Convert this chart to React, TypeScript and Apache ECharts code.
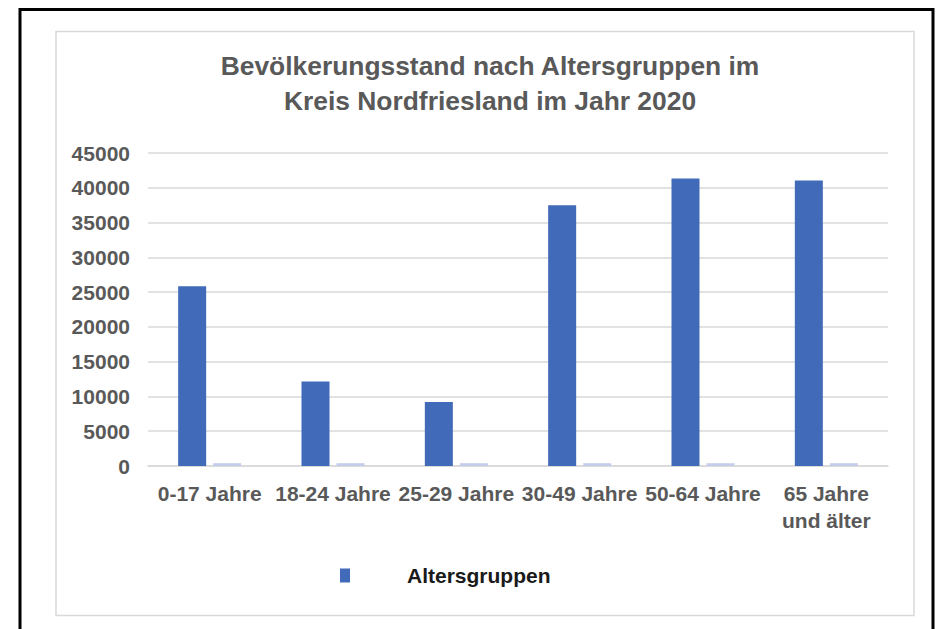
import React, { useEffect, useRef } from "react";
import * as echarts from "echarts";

const categories = ["0-17 Jahre", "18-24 Jahre", "25-29 Jahre", "30-49 Jahre", "50-64 Jahre", "65 Jahre\nund älter"];
const altersgruppen = [25850, 12150, 9200, 37500, 41350, 41050];
const secondSeries = [400, 400, 400, 400, 400, 400];
const yTicks = [0, 5000, 10000, 15000, 20000, 25000, 30000, 35000, 40000, 45000];
const titleLines = ["Bevölkerungsstand nach Altersgruppen im", "Kreis Nordfriesland im Jahr 2020"];
const legendName = "Altersgruppen";

const SANS = '"Liberation Sans", Arial, sans-serif';

export default function App() {
  const ref = useRef<HTMLDivElement>(null);
  useEffect(() => {
    document.body.style.margin = "0";
    if (!ref.current) return;
    const chart = echarts.init(ref.current, null, { renderer: "svg" });
    chart.setOption({
      animation: false,
      backgroundColor: "#ffffff",
      title: {
        text: titleLines.join("\n"),
        left: 485,
        textAlign: "center",
        top: 43,
        textStyle: {
          fontFamily: SANS,
          fontWeight: "bold",
          fontSize: 26.4,
          lineHeight: 35,
          color: "#595959",
        },
      },
      legend: {
        data: [legendName],
        left: 335,
        top: 560,
        itemWidth: 10,
        itemHeight: 14,
        icon: "rect",
        textStyle: {
          fontFamily: SANS,
          fontWeight: "bold",
          fontSize: 21,
          color: "#1a1a1a",
          padding: [0, 0, 0, 52],
        },
      },
      grid: { left: 148, right: 49, top: 153, bottom: 163 },
      xAxis: {
        type: "category",
        data: categories,
        axisLine: { lineStyle: { color: "#d9d9d9", width: 1.5 } },
        axisTick: { show: false },
        axisLabel: {
          interval: 0,
          margin: 14,
          fontFamily: SANS,
          fontWeight: "bold",
          fontSize: 21,
          lineHeight: 27,
          color: "#595959",
        },
      },
      yAxis: {
        type: "value",
        min: yTicks[0],
        max: yTicks[yTicks.length - 1],
        interval: yTicks[1] - yTicks[0],
        axisLine: { show: false },
        axisTick: { show: false },
        splitLine: { lineStyle: { color: "#d9d9d9", width: 1.5 } },
        axisLabel: {
          margin: 18,
          formatter: (v: number) => String(v),
          fontFamily: SANS,
          fontWeight: "bold",
          fontSize: 21,
          color: "#595959",
        },
      },
      graphic: [
        {
          type: "rect",
          shape: { x: 20, y: 9.5, width: 913, height: 640 },
          style: { fill: "none", stroke: "#000000", lineWidth: 3 },
          silent: true,
          z: 100,
        },
        {
          type: "rect",
          shape: { x: 56, y: 31.5, width: 858, height: 584 },
          style: { fill: "none", stroke: "#d9d9d9", lineWidth: 1.5 },
          silent: true,
          z: 100,
        },
      ],
      series: [
        {
          name: legendName,
          type: "bar",
          data: altersgruppen,
          barWidth: 28,
          barGap: "25%",
          itemStyle: { color: "#416ab9" },
        },
        {
          name: "",
          type: "bar",
          data: secondSeries,
          barWidth: 28,
          itemStyle: { color: "#c5cdea" },
        },
      ],
    });
    return () => chart.dispose();
  }, []);
  return <div ref={ref} style={{ width: 937, height: 629 }} />;
}
